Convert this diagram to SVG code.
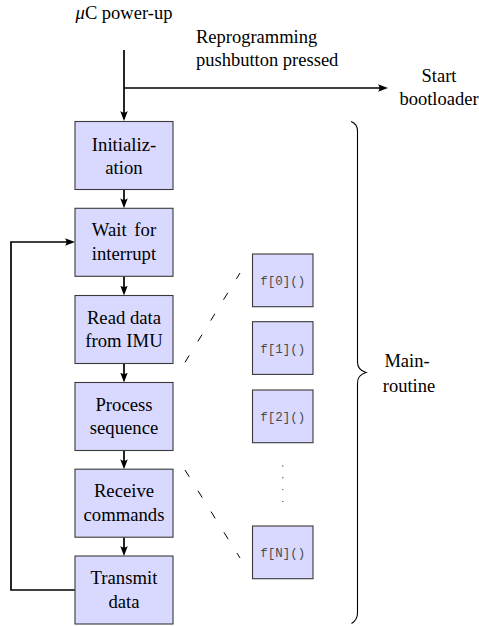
<svg xmlns="http://www.w3.org/2000/svg" width="479" height="626" viewBox="0 0 479 626">
  <defs>
    <marker id="arrow" markerUnits="userSpaceOnUse" markerWidth="11" markerHeight="8" refX="6" refY="3.75" orient="auto">
      <path d="M0,0 Q3,3.75 0,7.5 L10,3.75 Z" fill="#000"/>
    </marker>
  </defs>
  <style>
    .box { fill: #d9d9ff; stroke: #3a3a3a; stroke-width: 1.1; }
    .serif { font-family: "Liberation Serif", "Times New Roman", "DejaVu Serif", serif; }
    .lbl { font-size: 18.7px; fill: #000; text-anchor: middle; }
    .free { font-size: 18.5px; fill: #000; }
    .mono { font-family: "Liberation Mono", "Courier New", "DejaVu Sans Mono", monospace; }
    .code { font-size: 12.5px; fill: #4a4a4a; text-anchor: middle; }
    .flow { fill: none; stroke: #000; stroke-width: 1.7; }
    .dash { fill: none; stroke: #000; stroke-width: 1; stroke-dasharray: 8 16.5; }
    .brace { fill: none; stroke: #000; stroke-width: 1.1; }
  </style>

  <g class="serif">
  <!-- free-standing labels -->
  <text class="free" x="124" y="19" text-anchor="middle"><tspan font-style="italic">μ</tspan>C power-up</text>
  <text class="free" x="196" y="43">Reprogramming</text>
  <text class="free" x="196" y="66">pushbutton pressed</text>
  <text class="free" x="439" y="82" text-anchor="middle">Start</text>
  <text class="free" x="439" y="105" text-anchor="middle">bootloader</text>

  <!-- connectors -->
  <g id="connectors">
    <path class="flow" d="M124,50 V117" marker-end="url(#arrow)"/>
    <path class="flow" d="M124,88 H384" marker-end="url(#arrow)"/>
    <path class="flow" d="M124,189.5 V204.3" marker-end="url(#arrow)"/>
    <path class="flow" d="M124,276.3 V291.5" marker-end="url(#arrow)"/>
    <path class="flow" d="M124,363.5 V378.5" marker-end="url(#arrow)"/>
    <path class="flow" d="M124,450.5 V465.2" marker-end="url(#arrow)"/>
    <path class="flow" d="M124,537.2 V552" marker-end="url(#arrow)"/>
    <path class="flow" d="M75,590 H11 V242 H71" marker-end="url(#arrow)"/>
    <path class="dash" d="M185,362.3 L240,273"/>
    <path class="dash" d="M185,470 L240,558"/>
  </g>

  <!-- main loop steps -->
  <g id="init">
    <rect class="box" x="75" y="121.5" width="98" height="68"/>
    <text class="lbl" x="124" y="150.5">Initializ-</text>
    <text class="lbl" x="124" y="174">ation</text>
  </g>
  <g id="wait">
    <rect class="box" x="75" y="208.3" width="98" height="68"/>
    <text class="lbl" x="124" y="236" word-spacing="3">Wait for</text>
    <text class="lbl" x="124" y="259.5">interrupt</text>
  </g>
  <g id="read">
    <rect class="box" x="75" y="295.5" width="98" height="68"/>
    <text class="lbl" x="124" y="323.5">Read data</text>
    <text class="lbl" x="124" y="347">from IMU</text>
  </g>
  <g id="process">
    <rect class="box" x="75" y="382.5" width="98" height="68"/>
    <text class="lbl" x="124" y="410.5">Process</text>
    <text class="lbl" x="124" y="434">sequence</text>
  </g>
  <g id="receive">
    <rect class="box" x="75" y="469.2" width="98" height="68"/>
    <text class="lbl" x="124" y="497">Receive</text>
    <text class="lbl" x="124" y="520.5">commands</text>
  </g>
  <g id="transmit">
    <rect class="box" x="75" y="556" width="98" height="68"/>
    <text class="lbl" x="124" y="584">Transmit</text>
    <text class="lbl" x="124" y="607.5">data</text>
  </g>

  <!-- sequence functions -->
  <g class="mono">
  <g id="f0">
    <rect class="box" x="252.5" y="254" width="60.5" height="52.7"/>
    <text class="code" x="282.7" y="284.8">f[0]()</text>
  </g>
  <g id="f1">
    <rect class="box" x="252.5" y="321.7" width="60.5" height="52.7"/>
    <text class="code" x="282.7" y="352.5">f[1]()</text>
  </g>
  <g id="f2">
    <rect class="box" x="252.5" y="390" width="60.5" height="52.7"/>
    <text class="code" x="282.7" y="420.8">f[2]()</text>
  </g>
  <g id="fN">
    <rect class="box" x="252.5" y="526" width="60.5" height="52.7"/>
    <text class="code" x="282.7" y="556.8">f[N]()</text>
  </g>
  </g>
  <g id="dots" fill="#555">
    <circle cx="282.8" cy="466" r="0.7"/>
    <circle cx="282.8" cy="477.8" r="0.7"/>
    <circle cx="282.8" cy="489.6" r="0.7"/>
    <circle cx="282.8" cy="501.4" r="0.7"/>
  </g>

  <!-- brace spanning the main routine -->
  <g id="main-routine">
    <path class="brace" d="M351,121.5 Q357.5,124 357.5,131 V362 Q357.5,370 366,372.5 Q357.5,375 357.5,383 V613 Q357.5,620 351.5,623.5"/>
    <text class="free" x="407" y="367" text-anchor="middle">Main-</text>
    <text class="free" x="409" y="392" text-anchor="middle">routine</text>
  </g>
  </g>
</svg>
